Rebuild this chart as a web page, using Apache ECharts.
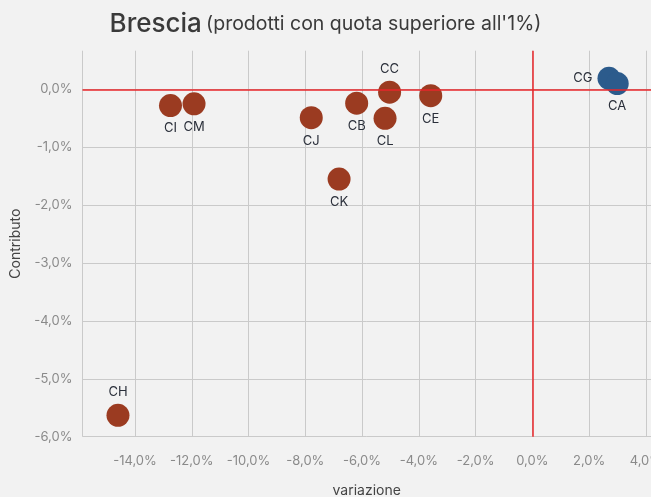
<!DOCTYPE html>
<html>
<head>
<meta charset="utf-8">
<script src="https://cdn.jsdelivr.net/npm/echarts@6/dist/echarts.min.js"></script>
<style>
html,body{margin:0;padding:0;background:#f2f2f2;}
#chart{width:651px;height:497px;}
</style>
</head>
<body>
<div id="chart"></div>
<script>
// Data
const prodotti    = ['CI', 'CM', 'CJ', 'CB', 'CC', 'CL', 'CE', 'CK', 'CH', 'CG', 'CA'];
const variazione  = [-12.75, -11.92, -7.79, -6.19, -5.03, -5.19, -3.58, -6.81, -14.60, 2.70, 2.99];
const contributo  = [-0.28, -0.25, -0.49, -0.24, -0.05, -0.50, -0.11, -1.55, -5.63, 0.19, 0.10];

// label placement (style, not data)
const labelPos = { CC: 'top', CH: 'top', CG: 'left' };

const FONT = 'Inter, "Noto Sans", sans-serif';
const fmt = v => (Math.abs(v) < 1e-9 ? 0 : v).toFixed(1).replace('.', ',') + '%';

const points = prodotti.map((n, i) => ({
  name: n,
  value: [variazione[i], contributo[i]],
  itemStyle: { color: variazione[i] >= 0 ? '#2c5b8c' : '#9b3b21', opacity: 1 },
  label: { position: labelPos[n] || 'bottom' }
}));

const chart = echarts.init(document.getElementById('chart'));
chart.setOption({
  backgroundColor: '#f2f2f2',
  animation: false,
  textStyle: { fontFamily: FONT },
  title: {
    left: 'center',
    top: 6,
    text: '{a|Brescia} {b|(prodotti con quota superiore all\'1%)}',
    textStyle: {
      rich: {
        a: { fontFamily: FONT, fontSize: 26, fontWeight: 500, color: '#3a3a3a' },
        b: { fontFamily: FONT, fontSize: 19.5, fontWeight: 400, color: '#3a3a3a' }
      }
    }
  },
  grid: { left: 82.5, right: 0, top: 50.7, bottom: 60.3, containLabel: false, outerBoundsMode: 'none' },
  xAxis: {
    type: 'value',
    min: -15.85,
    max: 4.18,
    splitNumber: 10,
    name: 'variazione',
    nameLocation: 'middle',
    nameGap: 47,
    nameTextStyle: { fontFamily: FONT, fontSize: 14, color: '#444' },
    axisLine: { show: true, lineStyle: { color: '#c4c4c4', width: 1 } },
    axisTick: { show: true, length: 6, lineStyle: { color: '#c4c4c4' } },
    axisLabel: {
      fontFamily: FONT, fontSize: 13, color: '#8a8a8a', margin: 18,
      showMinLabel: false, showMaxLabel: false,
      formatter: fmt
    },
    splitLine: { show: true, lineStyle: { color: '#cacaca', width: 1 } }
  },
  yAxis: {
    type: 'value',
    min: -6,
    max: 0.667,
    splitNumber: 7,
    name: 'Contributo',
    nameLocation: 'middle',
    nameGap: 58,
    nameRotate: 90,
    nameTextStyle: { fontFamily: FONT, fontSize: 14, color: '#444' },
    axisLine: { show: false },
    axisTick: { show: false },
    axisLabel: {
      fontFamily: FONT, fontSize: 13, color: '#8a8a8a', margin: 10,
      showMaxLabel: false,
      formatter: fmt
    },
    splitLine: { show: true, showMaxLine: false, lineStyle: { color: '#cacaca', width: 1 } }
  },
  series: [
    {
      type: 'scatter',
      z: 1,
      data: [],
      silent: true,
      markLine: {
        silent: true,
        symbol: 'none',
        label: { show: false },
        lineStyle: { color: '#e8262a', width: 1.5, type: 'solid' },
        data: [{ xAxis: 0 }, { yAxis: 0 }]
      }
    },
    {
      type: 'scatter',
      z: 3,
      symbolSize: 23,
      data: points,
      label: {
        show: true,
        formatter: p => p.name,
        fontFamily: FONT,
        fontSize: 13,
        color: '#2a2f3a',
        distance: 5
      }
    }
  ]
});
</script>
</body>
</html>
